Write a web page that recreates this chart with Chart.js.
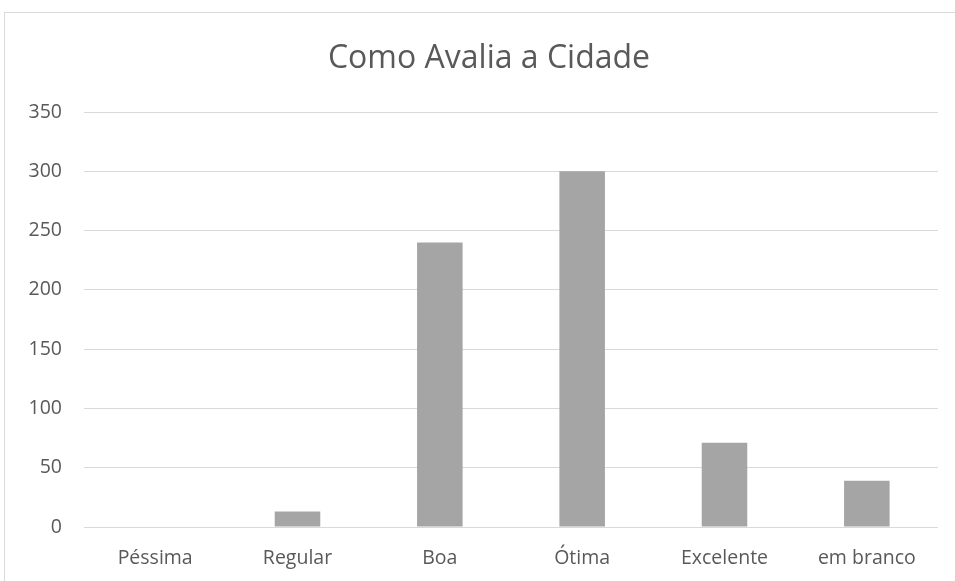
<!DOCTYPE html>
<html><head><meta charset="utf-8">
<script src="https://cdn.jsdelivr.net/npm/chart.js@4"></script>
<style>
html,body{margin:0;padding:0;background:#fff;overflow:hidden;}
#box{position:absolute;left:4px;top:12px;width:1000px;height:700px;border:1px solid #d9d9d9;box-sizing:border-box;}
#wrap{position:absolute;left:5px;top:13px;width:950px;height:568px;}
</style></head><body>
<div id="box"></div>
<div id="wrap"><canvas id="c"></canvas></div>
<script>
const categories = ["Péssima","Regular","Boa","Ótima","Excelente","em branco"];
const values = [0, 13, 240, 300, 71, 39];
const yTicks = [0,50,100,150,200,250,300,350];
const titleText = "Como Avalia a Cidade";

const titlePlugin = {
  id: 'refTitle',
  afterDraw(chart) {
    const ctx = chart.ctx;
    ctx.save();
    ctx.font = "32px 'Open Sans'";
    ctx.fillStyle = '#595959';
    ctx.textAlign = 'center';
    ctx.textBaseline = 'alphabetic';
    ctx.fillText(titleText, 484, 55);
    ctx.restore();
  }
};

new Chart(document.getElementById('c'), {
  type: 'bar',
  data: { labels: categories, datasets: [{ data: values, backgroundColor: '#a5a5a5', barPercentage: 0.32, categoryPercentage: 1 }] },
  options: {
    responsive: true, maintainAspectRatio: false, animation: false,
    layout: { padding: { left: 0, right: 17, top: 99, bottom: 0 } },
    plugins: { legend: { display: false }, tooltip: { enabled: false }, title: { display: false } },
    scales: {
      x: {
        grid: { display: false }, border: { display: false },
        ticks: { color: '#595959', font: { family: "'Open Sans'", size: 19.5 }, padding: 12, maxRotation: 0 },
        afterFit: s => { s.height = 54; }
      },
      y: {
        min: 0, max: 350,
        afterBuildTicks: s => { s.ticks = yTicks.map(v => ({ value: v })); },
        grid: { color: '#d9d9d9', lineWidth: 1, drawTicks: false }, border: { display: false },
        ticks: { color: '#595959', font: { family: "'Open Sans'", size: 19.5 }, padding: 22 },
        afterFit: s => { s.width = 79; }
      }
    }
  },
  plugins: [titlePlugin]
});
</script></body></html>
